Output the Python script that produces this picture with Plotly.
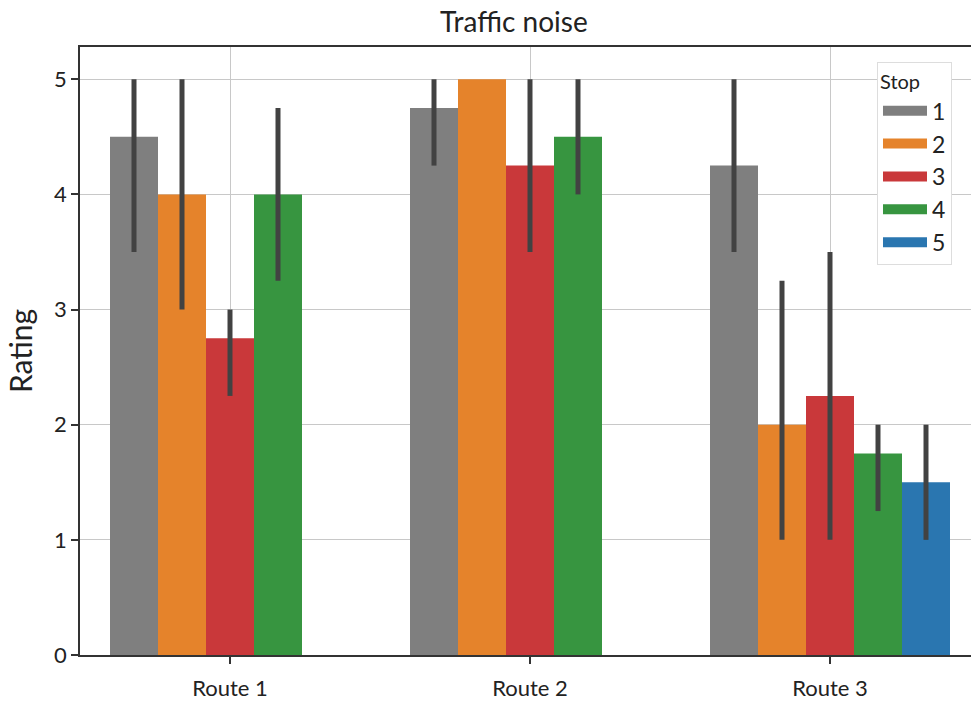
import plotly.graph_objects as go

routes = ["Route 1", "Route 2", "Route 3"]
route_pos = [0, 1, 2]
stops = ["1", "2", "3", "4", "5"]

mean_stop1 = [4.5, 4.75, 4.25]
mean_stop2 = [4.0, 5.0, 2.0]
mean_stop3 = [2.75, 4.25, 2.25]
mean_stop4 = [4.0, 4.5, 1.75]
mean_stop5 = [None, None, 1.5]

low_stop1 = [3.5, 4.25, 3.5]
low_stop2 = [3.0, 5.0, 1.0]
low_stop3 = [2.25, 3.5, 1.0]
low_stop4 = [3.25, 4.0, 1.25]
low_stop5 = [None, None, 1.0]

high_stop1 = [5.0, 5.0, 5.0]
high_stop2 = [5.0, 5.0, 3.25]
high_stop3 = [3.0, 5.0, 3.5]
high_stop4 = [4.75, 5.0, 2.0]
high_stop5 = [None, None, 2.0]

colors = ["#7f7f7f", "#e5832b", "#c9383a", "#379540", "#2a76b0"]

means = [mean_stop1, mean_stop2, mean_stop3, mean_stop4, mean_stop5]
lows = [low_stop1, low_stop2, low_stop3, low_stop4, low_stop5]
highs = [high_stop1, high_stop2, high_stop3, high_stop4, high_stop5]

fig = go.Figure()
for s, m, lo, hi, c in zip(stops, means, lows, highs, colors):
    plus = [None if v is None else h - v for v, h in zip(m, hi)]
    minus = [None if v is None else v - l for v, l in zip(m, lo)]
    fig.add_trace(go.Bar(
        x=route_pos, y=m, name=s, showlegend=False, legendgroup=s,
        marker=dict(color=c, line=dict(width=0)),
        error_y=dict(type="data", symmetric=False, array=plus, arrayminus=minus,
                     color="#424242", thickness=5, width=0),
    ))
# legend swatches (wide rectangles like the reference)
for s, c in zip(stops, colors):
    fig.add_trace(go.Scatter(
        x=[None], y=[None], mode="lines", name=s, legendgroup=s,
        line=dict(color=c, width=15), hoverinfo="skip",
    ))

font_family = "Lato, Open Sans, sans-serif"
fig.update_layout(
    width=971, height=703,
    margin=dict(l=80, r=0, t=47, b=48),
    paper_bgcolor="white", plot_bgcolor="white",
    barmode="group", bargap=0.2, bargroupgap=0,
    font=dict(family=font_family, size=22, color="#222"),
    title=dict(text="Traffic noise", xref="paper", x=0.487, xanchor="center",
               yref="container", y=0.969, yanchor="middle",
               font=dict(size=28, color="#222")),
    xaxis=dict(range=[-0.5, 2.47], tickvals=route_pos, ticktext=routes,
               showgrid=True, gridcolor="#c8c8c8", gridwidth=1,
               ticks="outside", ticklen=7, tickcolor="#333", tickwidth=1.5,
               ticklabelstandoff=6,
               showline=True, linecolor="#333", linewidth=1.8, mirror=True,
               layer="above traces", zeroline=False, tickfont=dict(size=22)),
    yaxis=dict(range=[0, 5.28], tickvals=[0, 1, 2, 3, 4, 5],
               title=dict(text="Rating", font=dict(size=30), standoff=12),
               showgrid=True, gridcolor="#c8c8c8", gridwidth=1,
               ticks="outside", ticklen=7, tickcolor="#333", tickwidth=1.5,
               showline=True, linecolor="#333", linewidth=1.8, mirror=False,
               layer="above traces", zeroline=False, tickfont=dict(size=22)),
    legend=dict(title=dict(text="Stop", font=dict(size=20)),
                x=0.8945, y=0.975, xanchor="left", yanchor="top",
                bgcolor="white", bordercolor="#dddddd", borderwidth=1,
                font=dict(size=23), traceorder="normal", itemwidth=44),
)

fig.write_html(
    "out.html",
    config={"displayModeBar": False},
    post_script="document.body.style.margin='0';document.body.style.overflow='hidden';",
)
